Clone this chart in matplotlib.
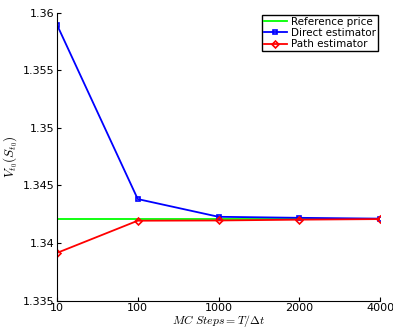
import numpy as np
import matplotlib
matplotlib.use("Agg")
import matplotlib.pyplot as plt

steps = ["10", "100", "1000", "2000", "4000"]
reference_price = 1.34208
direct_est = [1.35897, 1.34382, 1.34228, 1.34219, 1.34212]
path_est = [1.33914, 1.34194, 1.34196, 1.34203, 1.34208]

plt.rcParams['mathtext.fontset'] = 'cm'

fig = plt.figure(figsize=(3.93, 3.31), dpi=100)
ax = fig.add_axes([0.145, 0.092, 0.822, 0.869])

x = np.arange(len(steps))
ax.plot(x, [reference_price] * len(steps), color='#00ff00', lw=1.3, label='Reference price')
ax.plot(x, direct_est, color='blue', lw=1.3, marker='s', ms=3.5, mfc='none', mew=1.2,
        label='Direct estimator')
ax.plot(x, path_est, color='red', lw=1.3, marker='D', ms=3.5, mfc='none', mew=1.2,
        label='Path estimator')

ax.set_xlim(0, 4)
ax.set_ylim(1.335, 1.36)
ax.set_xticks(x)
ax.set_xticklabels(steps)
ax.set_yticks([1.335, 1.34, 1.345, 1.35, 1.355, 1.36])
ax.set_yticklabels(['1.335', '1.34', '1.345', '1.35', '1.355', '1.36'])
ax.tick_params(direction='in', labelsize=8, length=3, pad=2)
ax.spines['top'].set_visible(False)
ax.spines['right'].set_visible(False)

ax.set_ylabel(r'$V_{t_0}(S_{t_0})$', fontsize=9.5, labelpad=2)
ax.set_xlabel(r'$MC\ Steps = T/\Delta t$', fontsize=8.5, labelpad=0)

leg = ax.legend(loc='upper right', fontsize=7.5, fancybox=False, framealpha=1,
                edgecolor='black', handlelength=2.2, handletextpad=0.4,
                borderpad=0.2, labelspacing=0.1, borderaxespad=0.2)
leg.get_frame().set_linewidth(1.0)

fig.savefig('out.png', dpi=100)
